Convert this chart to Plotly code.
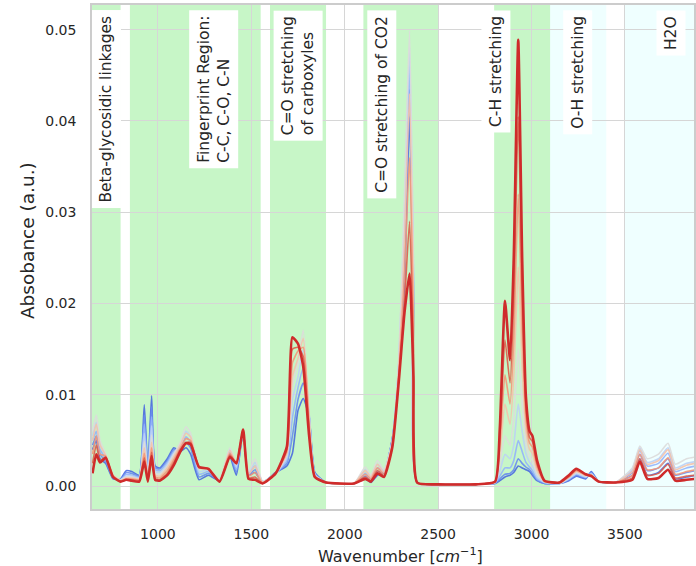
import plotly.graph_objects as go

# Wavenumber grid shared by all spectra (cm^-1)
wavenumber = [
    650, 670, 690, 720, 760, 800, 830, 860, 900, 927,
    946, 966, 985, 1010, 1050, 1085, 1120, 1150, 1175, 1220,
    1270, 1330, 1385, 1420, 1456, 1485, 1520, 1560, 1630, 1690,
    1720, 1750, 1778, 1810, 1840, 1900, 2050, 2110, 2140, 2175,
    2210, 2255, 2290, 2320, 2347, 2368, 2388, 2500, 2700, 2805,
    2830, 2858, 2885, 2905, 2929, 2950, 2970, 2990, 3005, 3030,
    3070, 3150, 3200, 3240, 3290, 3320, 3360, 3450, 3540, 3580,
    3620, 3680, 3731, 3770, 3830, 3880,
]

# Absorbance spectra, first measurement (0) to last (8)
absorbance_0 = [
    0.0040, 0.0050, 0.0030, 0.0025, 0.0008, 0.0008, 0.0017, 0.0016, 0.0012, 0.0089,
    0.0015, 0.0099, 0.0022, 0.0020, 0.0030, 0.0042, 0.0038, 0.0042, 0.0035, 0.0007,
    0.0012, 0.0006, 0.0032, 0.0012, 0.0060, 0.0012, 0.0015, 0.0004, 0.0015, 0.0022,
    0.0036, 0.0083, 0.0096, 0.0075, 0.0015, 0.0004, 0.0003, 0.0008, 0.0004, 0.0012,
    0.0014, 0.0052, 0.0120, 0.0220, 0.0405, 0.0200, 0.0004, 0.0002, 0.0002, 0.0003,
    0.0006, 0.0010, 0.0012, 0.0015, 0.0022, 0.0020, 0.0018, 0.0016, 0.0012, 0.0006,
    0.0003, 0.0003, 0.0006, 0.0011, 0.0008, 0.0016, 0.0005, 0.0004, 0.0012, 0.0030,
    0.0012, 0.0015, 0.0025, 0.0008, 0.0010, 0.0012,
]
absorbance_1 = [
    0.0045, 0.0055, 0.0035, 0.0027, 0.0009, 0.0007, 0.0015, 0.0014, 0.0011, 0.0078,
    0.0013, 0.0087, 0.0020, 0.0019, 0.0028, 0.0040, 0.0040, 0.0048, 0.0042, 0.0010,
    0.0014, 0.0006, 0.0035, 0.0015, 0.0060, 0.0013, 0.0018, 0.0004, 0.0014, 0.0025,
    0.0055, 0.0095, 0.0113, 0.0076, 0.0014, 0.0004, 0.0003, 0.0011, 0.0006, 0.0016,
    0.0015, 0.0052, 0.0130, 0.0250, 0.0435, 0.0220, 0.0004, 0.0002, 0.0002, 0.0003,
    0.0008, 0.0013, 0.0014, 0.0018, 0.0030, 0.0025, 0.0021, 0.0018, 0.0014, 0.0007,
    0.0003, 0.0003, 0.0007, 0.0012, 0.0009, 0.0015, 0.0005, 0.0004, 0.0015, 0.0035,
    0.0017, 0.0020, 0.0030, 0.0012, 0.0015, 0.0017,
]
absorbance_2 = [
    0.0050, 0.0060, 0.0040, 0.0030, 0.0010, 0.0007, 0.0013, 0.0012, 0.0010, 0.0068,
    0.0012, 0.0076, 0.0018, 0.0017, 0.0026, 0.0038, 0.0042, 0.0054, 0.0048, 0.0013,
    0.0016, 0.0007, 0.0037, 0.0018, 0.0060, 0.0014, 0.0022, 0.0005, 0.0014, 0.0028,
    0.0075, 0.0108, 0.0130, 0.0077, 0.0013, 0.0004, 0.0003, 0.0014, 0.0008, 0.0020,
    0.0016, 0.0050, 0.0135, 0.0280, 0.0460, 0.0230, 0.0004, 0.0002, 0.0002, 0.0004,
    0.0011, 0.0020, 0.0020, 0.0028, 0.0050, 0.0038, 0.0026, 0.0021, 0.0017, 0.0008,
    0.0004, 0.0003, 0.0008, 0.0013, 0.0010, 0.0014, 0.0005, 0.0004, 0.0017, 0.0039,
    0.0022, 0.0025, 0.0036, 0.0016, 0.0020, 0.0022,
]
absorbance_3 = [
    0.0055, 0.0070, 0.0045, 0.0033, 0.0011, 0.0007, 0.0011, 0.0011, 0.0009, 0.0058,
    0.0010, 0.0066, 0.0016, 0.0015, 0.0024, 0.0036, 0.0045, 0.0060, 0.0054, 0.0016,
    0.0018, 0.0007, 0.0040, 0.0021, 0.0060, 0.0015, 0.0026, 0.0005, 0.0014, 0.0031,
    0.0095, 0.0120, 0.0150, 0.0078, 0.0013, 0.0004, 0.0003, 0.0018, 0.0010, 0.0024,
    0.0017, 0.0050, 0.0140, 0.0300, 0.0480, 0.0240, 0.0004, 0.0002, 0.0002, 0.0004,
    0.0016, 0.0035, 0.0030, 0.0045, 0.0090, 0.0060, 0.0036, 0.0026, 0.0022, 0.0010,
    0.0004, 0.0003, 0.0008, 0.0014, 0.0010, 0.0013, 0.0005, 0.0004, 0.0019, 0.0042,
    0.0026, 0.0030, 0.0042, 0.0020, 0.0025, 0.0027,
]
absorbance_4 = [
    0.0060, 0.0078, 0.0050, 0.0035, 0.0012, 0.0007, 0.0010, 0.0010, 0.0008, 0.0049,
    0.0009, 0.0056, 0.0014, 0.0013, 0.0022, 0.0035, 0.0048, 0.0065, 0.0058, 0.0019,
    0.0020, 0.0007, 0.0042, 0.0024, 0.0060, 0.0016, 0.0030, 0.0005, 0.0014, 0.0034,
    0.0110, 0.0135, 0.0171, 0.0078, 0.0012, 0.0004, 0.0003, 0.0021, 0.0012, 0.0028,
    0.0018, 0.0049, 0.0140, 0.0320, 0.0499, 0.0250, 0.0004, 0.0002, 0.0002, 0.0004,
    0.0024, 0.0055, 0.0045, 0.0075, 0.0150, 0.0090, 0.0048, 0.0032, 0.0028, 0.0013,
    0.0005, 0.0003, 0.0009, 0.0015, 0.0011, 0.0013, 0.0005, 0.0004, 0.0020, 0.0044,
    0.0030, 0.0035, 0.0047, 0.0024, 0.0030, 0.0032,
]
absorbance_5 = [
    0.0050, 0.0068, 0.0045, 0.0034, 0.0012, 0.0006, 0.0009, 0.0009, 0.0008, 0.0042,
    0.0008, 0.0048, 0.0012, 0.0011, 0.0020, 0.0032, 0.0045, 0.0058, 0.0054, 0.0020,
    0.0020, 0.0006, 0.0039, 0.0025, 0.0060, 0.0013, 0.0022, 0.0004, 0.0014, 0.0036,
    0.0120, 0.0140, 0.0162, 0.0072, 0.0011, 0.0004, 0.0003, 0.0017, 0.0010, 0.0024,
    0.0015, 0.0047, 0.0130, 0.0270, 0.0430, 0.0210, 0.0004, 0.0002, 0.0002, 0.0005,
    0.0034, 0.0090, 0.0068, 0.0120, 0.0240, 0.0130, 0.0062, 0.0040, 0.0036, 0.0017,
    0.0005, 0.0004, 0.0010, 0.0016, 0.0012, 0.0012, 0.0005, 0.0004, 0.0016, 0.0040,
    0.0024, 0.0028, 0.0040, 0.0018, 0.0023, 0.0025,
]
absorbance_6 = [
    0.0035, 0.0055, 0.0035, 0.0033, 0.0011, 0.0006, 0.0008, 0.0008, 0.0007, 0.0036,
    0.0007, 0.0042, 0.0010, 0.0009, 0.0017, 0.0029, 0.0042, 0.0052, 0.0050, 0.0020,
    0.0019, 0.0006, 0.0036, 0.0025, 0.0061, 0.0011, 0.0015, 0.0004, 0.0014, 0.0038,
    0.0135, 0.0148, 0.0152, 0.0066, 0.0011, 0.0004, 0.0003, 0.0013, 0.0008, 0.0020,
    0.0013, 0.0045, 0.0125, 0.0230, 0.0360, 0.0180, 0.0004, 0.0002, 0.0002, 0.0005,
    0.0044, 0.0122, 0.0090, 0.0160, 0.0320, 0.0170, 0.0075, 0.0047, 0.0043, 0.0021,
    0.0005, 0.0004, 0.0010, 0.0017, 0.0012, 0.0012, 0.0005, 0.0004, 0.0012, 0.0035,
    0.0018, 0.0020, 0.0031, 0.0013, 0.0016, 0.0018,
]
absorbance_7 = [
    0.0025, 0.0045, 0.0028, 0.0032, 0.0010, 0.0005, 0.0007, 0.0007, 0.0006, 0.0031,
    0.0006, 0.0037, 0.0008, 0.0007, 0.0014, 0.0026, 0.0040, 0.0048, 0.0048, 0.0021,
    0.0019, 0.0005, 0.0034, 0.0025, 0.0062, 0.0009, 0.0010, 0.0003, 0.0014, 0.0040,
    0.0150, 0.0152, 0.0142, 0.0060, 0.0010, 0.0004, 0.0003, 0.0010, 0.0006, 0.0017,
    0.0011, 0.0044, 0.0120, 0.0200, 0.0290, 0.0150, 0.0004, 0.0002, 0.0002, 0.0005,
    0.0053, 0.0160, 0.0113, 0.0205, 0.0405, 0.0210, 0.0086, 0.0053, 0.0049, 0.0024,
    0.0006, 0.0004, 0.0011, 0.0018, 0.0013, 0.0012, 0.0005, 0.0004, 0.0009, 0.0030,
    0.0012, 0.0014, 0.0024, 0.0009, 0.0011, 0.0012,
]
absorbance_8 = [
    0.0014, 0.0035, 0.0026, 0.0031, 0.0010, 0.0005, 0.0007, 0.0006, 0.0005, 0.0027,
    0.0005, 0.0033, 0.0007, 0.0006, 0.0012, 0.0023, 0.0038, 0.0047, 0.0046, 0.0021,
    0.0019, 0.0005, 0.0032, 0.0025, 0.0062, 0.0008, 0.0007, 0.0003, 0.0014, 0.0043,
    0.0163, 0.0156, 0.0131, 0.0054, 0.0010, 0.0004, 0.0003, 0.0008, 0.0005, 0.0014,
    0.0010, 0.0043, 0.0116, 0.0190, 0.0233, 0.0120, 0.0004, 0.0002, 0.0002, 0.0005,
    0.0062, 0.0203, 0.0138, 0.0250, 0.0489, 0.0250, 0.0098, 0.0060, 0.0055, 0.0028,
    0.0006, 0.0004, 0.0012, 0.0019, 0.0013, 0.0011, 0.0005, 0.0004, 0.0007, 0.0027,
    0.0008, 0.0009, 0.0018, 0.0006, 0.0007, 0.0008,
]

spectra = [absorbance_0, absorbance_1, absorbance_2, absorbance_3, absorbance_4,
           absorbance_5, absorbance_6, absorbance_7, absorbance_8]

# coolwarm-style colour ramp, blue (first) -> grey -> red (last)
line_colors = ["#4a6ae0", "#6a8cef", "#94b4fb", "#bcd2f6", "#dddcdc",
               "#f5c4ac", "#f4987a", "#de604d", "#cf2b2b"]

# Band assignments
region_labels = ["Beta-glycosidic linkages", "Fingerprint Region:<br>C-C, C-O, C-N",
                 "C=O stretching<br>of carboxyles", "C=O stretching of CO2",
                 "C-H stretching", "O-H stretching", "H2O"]
region_start = [640, 850, 1600, 2100, 2800, 3100, 3500]
region_end = [800, 1550, 1900, 2500, 3100, 3400, 4000]
region_fill = ["rgba(144,238,144,0.5)"] * 5 + ["rgba(224,255,255,0.5)"] * 2
label_pos = [722, 1296, 1748, 2196, 2807, 3245, 3747]

FONT = "DejaVu Sans, sans-serif"
TXT = "#262626"

fig = go.Figure()

for i, (y, c) in enumerate(zip(spectra, line_colors)):
    last = i == len(spectra) - 1
    fig.add_trace(go.Scatter(
        x=wavenumber, y=y, mode="lines",
        line=dict(color=c, width=2.6 if last else 1.6, shape="spline", smoothing=0.5),
        opacity=1.0 if last else 0.9,
        hoverinfo="skip",
    ))

for x0, x1, col in zip(region_start, region_end, region_fill):
    fig.add_shape(type="rect", xref="x", yref="paper", x0=x0, x1=x1, y0=0, y1=1,
                  fillcolor=col, line_width=0, layer="between")

for lab, xp in zip(region_labels, label_pos):
    fig.add_annotation(x=xp, xref="x", y=0.99, yref="paper", text=lab,
                       textangle=-90, showarrow=False, xanchor="center", yanchor="top",
                       align="left", bgcolor="white", borderpad=5,
                       font=dict(family=FONT, size=15.5, color=TXT))

# Axis titles
fig.add_annotation(x=0.513, xref="paper", y=-0.093, yref="paper",
                   text="Wavenumber [<i>cm</i><sup>\u22121</sup>]", showarrow=False,
                   xanchor="center", yanchor="middle",
                   font=dict(family=FONT, size=16, color=TXT))
fig.add_annotation(x=-0.106, xref="paper", y=0.532, yref="paper",
                   text="Absobance (a.u.)", textangle=-90, showarrow=False,
                   xanchor="center", yanchor="middle",
                   font=dict(family=FONT, size=18.5, color=TXT))

axis_common = dict(showgrid=True, gridcolor="#d6d6d6", gridwidth=1,
                   showline=True, linecolor="#cccccc", linewidth=1.5, mirror=True,
                   zeroline=False, ticks="outside", ticklen=11,
                   tickcolor="rgba(0,0,0,0)",
                   tickfont=dict(family=FONT, size=14, color=TXT))

fig.update_xaxes(range=[647, 3870], tickvals=[1000, 1500, 2000, 2500, 3000, 3500],
                 **axis_common)
fig.update_yaxes(range=[-0.0025, 0.0527], tickvals=[0.0, 0.01, 0.02, 0.03, 0.04, 0.05],
                 ticktext=["0.00", "0.01", "0.02", "0.03", "0.04", "0.05"],
                 **axis_common)

fig.update_layout(width=696, height=566, margin=dict(l=92, r=0, t=5, b=57),
                  paper_bgcolor="white", plot_bgcolor="white", showlegend=False)

fig.write_html("out.html")
